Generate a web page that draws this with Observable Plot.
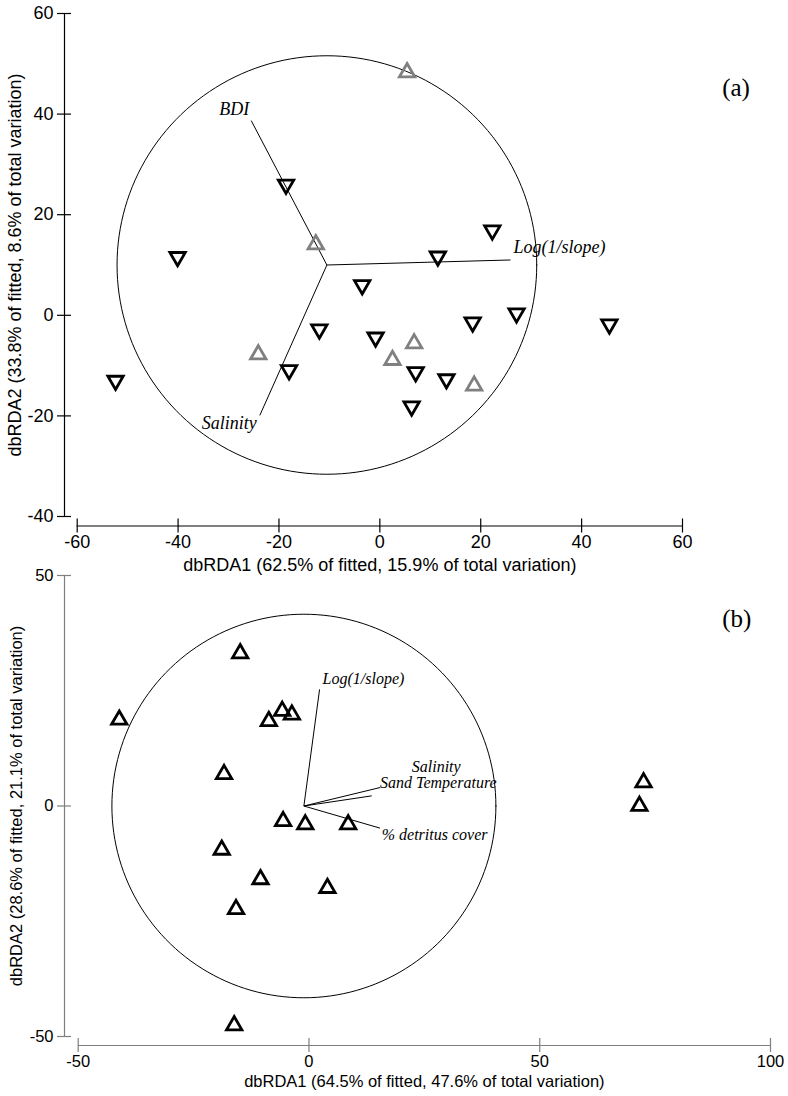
<!DOCTYPE html>
<html>
<head>
<meta charset="utf-8">
<script src="https://cdn.jsdelivr.net/npm/d3@7"></script>
<script src="https://cdn.jsdelivr.net/npm/@observablehq/plot@0.6"></script>
<style>
  body { margin: 0; background: #fff; }
  #wrap { position: relative; width: 788px; height: 1096px; overflow: hidden; }
  #wrap > svg { position: absolute; left: 0; }
</style>
</head>
<body>
<div id="wrap"></div>
<script>
// ---------- Panel (a) data ----------
const aLabel = "(a)";
const aXTicks = [-60, -40, -20, 0, 20, 40, 60];
const aYTicks = [-40, -20, 0, 20, 40, 60];
const aXTitle = "dbRDA1 (62.5% of fitted, 15.9% of total variation)";
const aYTitle = "dbRDA2 (33.8% of fitted, 8.6% of total variation)";
const aDownX = [-18.6, -40.1, 22.3, 11.5, -3.5, -12.0, -0.85, -18.0, -52.4, 18.4, 27.1, 45.5, 7.1, 13.2, 6.3];
const aDownY = [26.0, 11.6, 16.9, 11.7, 6.0, -2.8, -4.4, -10.9, -13.0, -1.4, 0.4, -1.8, -11.3, -12.7, -18.1];
const aUpX = [-12.7, 5.4, -24.1, 6.8, 2.5, 18.7];
const aUpY = [14.1, 48.3, -7.8, -5.6, -8.9, -14.0];
const aCircle = {cx: -10.5, cy: 10, r: 41.6};
const aVectorNames = ["BDI", "Log(1/slope)", "Salinity"];
const aVectorX = [-25.5, 25.9, -23.8];
const aVectorY = [38.7, 11.0, -19.9];

// ---------- Panel (b) data ----------
const bLabel = "(b)";
const bXTicks = [-50, 0, 50, 100];
const bYTicks = [-50, 0, 50];
const bXTitle = "dbRDA1 (64.5% of fitted, 47.6% of total variation)";
const bYTitle = "dbRDA2 (28.6% of fitted, 21.1% of total variation)";
const bUpX = [-14.9, -41.1, -5.8, -3.7, -8.7, -18.4, 72.5, 71.6, -5.6, -0.8, 8.5, -18.9, -10.5, 4.0, -15.8, -16.2];
const bUpY = [33.1, 18.7, 20.6, 19.8, 18.4, 6.9, 5.1, 0.0, -3.3, -4.0, -4.0, -9.5, -15.9, -17.8, -22.4, -47.6];
const bCircle = {cx: -1.1, cy: 0, r: 41.6};
const bVectorNames = ["Log(1/slope)", "Salinity", "Sand Temperature", "% detritus cover"];
const bVectorX = [2.3, 15.4, 13.6, 15.4];
const bVectorY = [25.3, 4.0, 2.2, -4.8];

// ---------- label placement (pixels) ----------
const aLabelLayout = [
  {anchor: "end", dx: -2, dy: -6},
  {anchor: "start", dx: 3, dy: -6.5},
  {anchor: "end", dx: -3, dy: 14}
];
const bLabelLayout = [
  {anchor: "start", dx: 3, dy: -5},
  {anchor: "start", dx: 31.7, dy: -15.5},
  {anchor: "start", dx: 8.3, dy: -8},
  {anchor: "start", dx: 1.7, dy: 12}
];

// downward-pointing triangle symbol (flipped d3.symbolTriangle)
const triangleDown = {
  draw(context, size) {
    const y = -Math.sqrt(size / (Math.sqrt(3) * 3));
    context.moveTo(0, -y * 2);
    context.lineTo(-Math.sqrt(3) * y, y);
    context.lineTo(Math.sqrt(3) * y, y);
    context.closePath();
  }
};

function circlePoints(c) {
  return d3.range(0, 361, 2).map(a => {
    const t = a * Math.PI / 180;
    return [c.cx + c.r * Math.cos(t), c.cy + c.r * Math.sin(t)];
  });
}

function panel(cfg) {
  const {xTicks, yTicks, axisColor, axisDx, axisDy, tickFont, labelFont} = cfg;
  const x0 = xTicks[0], y0 = yTicks[0];
  const sans = "'Liberation Sans', Arial, Helvetica, sans-serif";
  const serif = "'Liberation Serif', 'Times New Roman', serif";
  const vectors = cfg.vectorNames.map((n, i) => ({name: n, x: cfg.vectorX[i], y: cfg.vectorY[i]}));
  const marks = [
    // axes
    Plot.ruleY([y0], {x1: () => x0, x2: () => xTicks[xTicks.length - 1], dy: axisDy, stroke: axisColor, strokeWidth: 1.2}),
    Plot.ruleX(xTicks, {x: d => d, y1: () => y0, y2: () => y0, insetTop: -7, insetBottom: -7, dy: axisDy, stroke: axisColor, strokeWidth: 1.2}),
    Plot.text(xTicks, {x: d => d, y: () => y0, text: d => String(d), dy: axisDy + cfg.xLabelOffset, textAnchor: "middle", lineAnchor: "bottom", fill: "black", fontSize: tickFont, fontFamily: sans}),
    Plot.ruleX([x0], {y1: () => y0, y2: () => yTicks[yTicks.length - 1], dx: axisDx, stroke: axisColor, strokeWidth: 1.2}),
    Plot.ruleY(yTicks, {y: d => d, x1: () => x0, x2: () => x0, insetLeft: -7, insetRight: -7, dx: axisDx, stroke: axisColor, strokeWidth: 1.2}),
    Plot.text(yTicks, {x: () => x0, y: d => d, text: d => String(d), dx: axisDx - 11, textAnchor: "end", fill: "black", fontSize: tickFont, fontFamily: sans}),
    // titles
    Plot.text([cfg.xTitle], {frameAnchor: "bottom", textAnchor: "middle", lineAnchor: "bottom", dy: cfg.xTitleDy, fill: "black", fontSize: tickFont, fontFamily: sans}),
    Plot.text([cfg.yTitle], {frameAnchor: "left", textAnchor: "middle", rotate: -90, lineAnchor: "bottom", dx: cfg.yTitleDx, fill: "black", fontSize: tickFont, fontFamily: sans}),
    Plot.text([cfg.label], {frameAnchor: "top-right", textAnchor: "start", lineAnchor: "bottom", dx: cfg.labelDx, dy: cfg.labelDy, fill: "black", fontSize: 25, fontFamily: serif}),
    // circle and vectors
    Plot.line(circlePoints(cfg.circle), {x: d => d[0], y: d => d[1], stroke: "black", strokeWidth: 1, curve: "linear-closed"}),
    Plot.link(vectors, {x1: () => cfg.circle.cx, y1: () => cfg.circle.cy, x2: "x", y2: "y", stroke: "black", strokeWidth: 1}),
    ...vectors.map((v, i) => Plot.text([v], {x: "x", y: "y", text: "name", textAnchor: cfg.labelLayout[i].anchor, dx: cfg.labelLayout[i].dx, dy: cfg.labelLayout[i].dy, lineAnchor: "bottom", fill: "black", fontSize: labelFont, fontFamily: serif, fontStyle: "italic"}))
  ];
  for (const s of cfg.series) {
    const pts = s.xs.map((x, i) => ({x, y: s.ys[i]}));
    marks.push(Plot.dot(pts, {x: "x", y: "y", symbol: s.symbol, r: 5.7, stroke: s.color, strokeWidth: 2.8, fill: "none"}));
  }
  const svg = Plot.plot({
    width: 788,
    height: cfg.height,
    marginLeft: cfg.marginLeft,
    marginRight: cfg.marginRight,
    marginTop: cfg.marginTop,
    marginBottom: cfg.marginBottom,
    x: {domain: [x0, xTicks[xTicks.length - 1]], axis: null},
    y: {domain: [y0, yTicks[yTicks.length - 1]], axis: null},
    style: {background: "transparent", overflow: "visible", fontFamily: sans},
    marks
  });
  svg.style.top = cfg.top + "px";
  return svg;
}

const wrap = document.getElementById("wrap");
wrap.appendChild(panel({
  top: 0, height: 600, marginLeft: 76.7, marginRight: 106, marginTop: 13, marginBottom: 84,
  xTicks: aXTicks, yTicks: aYTicks, xTitle: aXTitle, yTitle: aYTitle, label: aLabel,
  axisColor: "black", axisDx: -12.7, axisDy: 9.5, tickFont: 18, labelFont: 18,
  xLabelOffset: 21.5, xTitleDy: 54.5, yTitleDx: -55.7, labelDx: 39.7, labelDy: 82,
  circle: aCircle, vectorNames: aVectorNames, vectorX: aVectorX, vectorY: aVectorY, labelLayout: aLabelLayout,
  series: [
    {xs: aDownX, ys: aDownY, symbol: triangleDown, color: "black"},
    {xs: aUpX, ys: aUpY, symbol: "triangle", color: "#808080"}
  ]
}));
wrap.appendChild(panel({
  top: 560, height: 536, marginLeft: 77.7, marginRight: 18, marginTop: 15, marginBottom: 60,
  xTicks: bXTicks, yTicks: bYTicks, xTitle: bXTitle, yTitle: bYTitle, label: bLabel,
  axisColor: "#7f7f7f", axisDx: -13.7, axisDy: 9, tickFont: 16.5, labelFont: 16,
  xLabelOffset: 21.5, xTitleDy: 50.5, yTitleDx: -55.7, labelDx: -48.3, labelDy: 51.7,
  circle: bCircle, vectorNames: bVectorNames, vectorX: bVectorX, vectorY: bVectorY, labelLayout: bLabelLayout,
  series: [
    {xs: bUpX, ys: bUpY, symbol: "triangle", color: "black"}
  ]
}));
</script>
</body>
</html>
